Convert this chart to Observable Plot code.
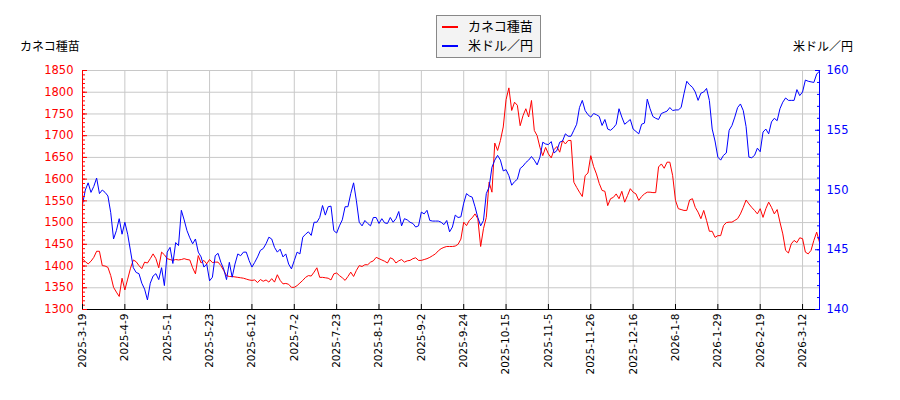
<!DOCTYPE html>
<html><head><meta charset="utf-8">
<script src="https://cdn.jsdelivr.net/npm/d3@7"></script>
<script src="https://cdn.jsdelivr.net/npm/@observablehq/plot@0.6"></script>
<style>
body{margin:0;background:#fff;font-family:"DejaVu Sans","Noto Sans CJK JP",sans-serif;}
#wrap{position:relative;width:900px;height:400px;}
.ttl{position:absolute;font-size:12px;top:37px;color:#000;white-space:nowrap;}
#legend{position:absolute;left:436px;top:15px;width:105px;height:43px;border:1px solid #888;background:#f3f3f3;box-sizing:border-box;font-size:13px;}
.row{position:absolute;left:0;height:18px;line-height:18px;white-space:nowrap;}
.sw{position:absolute;left:5px;top:8px;width:16px;height:2px;}
.lt{position:absolute;left:31px;top:0;}
</style></head>
<body><div id="wrap">
<div class="ttl" style="left:20px">カネコ種苗</div>
<div class="ttl" style="left:793px">米ドル／円</div>
<div id="legend">
 <div class="row" style="top:2px"><div class="sw" style="background:#ff0000"></div><span class="lt">カネコ種苗</span></div>
 <div class="row" style="top:21px"><div class="sw" style="background:#0000ff"></div><span class="lt">米ドル／円</span></div>
</div>
</div>
<script>
const tickLabels = ["2025-3-19","2025-4-9","2025-5-1","2025-5-23","2025-6-12","2025-7-2","2025-7-23","2025-8-13","2025-9-2","2025-9-24","2025-10-15","2025-11-5","2025-11-26","2025-12-16","2026-1-8","2026-1-29","2026-2-19","2026-3-12"];
const leftTicks = [1300,1350,1400,1450,1500,1550,1600,1650,1700,1750,1800,1850];
const rightTicks = [140,145,150,155,160];

const kaneko = [
1417,1410,1405,1411,1420,1434,1434,1401,1400,1397,
1378,1351,1340,1330,1372,1345,1370,1395,1414,1410,
1401,1394,1409,1407,1417,1428,1417,1396,1432,1426,
1417,1415,1413,1415,1414,1415,1417,1415,1414,1396,
1382,1424,1407,1413,1405,1415,1408,1409,1409,1401,
1390,1378,1376,1376,1375,1374,1373,1372,1370,1368,
1367,1368,1362,1369,1365,1368,1363,1371,1363,1380,
1367,1359,1360,1358,1351,1351,1355,1361,1367,1374,
1378,1377,1386,1396,1374,1374,1373,1372,1368,1382,
1384,1378,1373,1367,1376,1386,1376,1390,1401,1399,
1403,1403,1409,1412,1420,1417,1414,1411,1407,1419,
1416,1407,1412,1415,1409,1412,1413,1417,1419,1413,
1413,1415,1417,1420,1424,1428,1435,1440,1443,1445,
1445,1445,1446,1450,1462,1501,1493,1505,1511,1520,
1509,1445,1486,1512,1593,1570,1683,1666,1689,1720,
1783,1810,1758,1777,1770,1723,1746,1762,1743,1781,
1712,1700,1673,1654,1673,1658,1649,1668,1675,1662,
1689,1681,1689,1689,1593,1581,1570,1560,1608,1614,
1654,1629,1612,1590,1574,1572,1539,1555,1558,1566,
1555,1572,1547,1562,1578,1570,1566,1551,1560,1566,
1570,1570,1569,1569,1628,1635,1625,1639,1639,1608,
1551,1532,1530,1528,1528,1552,1555,1535,1524,1509,
1528,1505,1480,1480,1466,1470,1470,1493,1500,1501,
1501,1505,1509,1520,1535,1552,1543,1535,1528,1520,
1532,1512,1532,1547,1535,1520,1530,1501,1474,1436,
1430,1451,1459,1454,1465,1463,1432,1428,1436,1459,
1478,1455];

const usdjpy = [
148.8,150.0,150.6,149.8,150.3,151.0,149.7,150.0,149.8,149.5,
148.1,145.9,146.6,147.6,146.3,147.3,146.3,144.9,143.5,143.1,
143.0,142.2,141.7,140.8,142.2,142.8,143.0,142.5,143.5,142.0,
144.8,145.2,143.85,145.6,145.35,148.3,147.5,146.6,146.0,145.5,
145.9,144.8,144.4,143.55,143.8,142.4,142.7,144.5,144.7,143.95,
143.4,142.5,143.95,142.7,143.8,144.65,144.5,144.8,144.8,144.1,
143.55,143.95,144.4,144.95,145.1,145.5,146.05,145.9,145.2,144.8,
145.05,144.4,144.65,143.8,143.4,144.1,144.8,144.65,146.05,146.3,
146.5,146.2,147.3,147.3,147.7,148.7,147.9,148.6,148.65,146.6,
146.4,147.0,147.5,148.6,148.6,149.7,150.6,149.1,147.3,147.0,
147.45,147.2,147.0,147.7,147.7,147.2,147.6,147.25,147.2,147.7,
147.3,147.6,148.2,147.0,147.6,147.5,147.3,147.2,146.9,147.0,
148.15,148.0,148.3,147.45,147.4,147.4,147.4,147.3,147.1,147.45,
146.5,146.9,147.9,147.7,147.75,148.9,149.7,149.5,149.4,148.6,
147.7,147.0,147.45,149.7,150.25,151.9,152.5,152.9,152.5,151.6,
151.7,151.2,150.4,150.7,150.9,151.8,152.0,152.3,152.5,152.8,
152.5,152.1,152.75,154.0,153.85,153.8,154.05,153.1,153.3,154.0,
154.1,154.7,154.5,154.5,155.0,155.5,156.9,157.5,156.65,156.3,
156.1,156.4,156.3,156.15,155.4,155.9,155.1,155.0,155.2,155.5,
156.8,156.1,155.5,155.7,155.9,155.1,154.9,154.7,155.5,155.6,
157.6,156.8,156.15,156.0,155.9,156.4,156.5,156.6,156.9,156.65,
156.7,156.7,156.9,158.05,159.1,158.8,158.6,158.2,157.5,158.1,
158.2,158.5,157.5,155.1,154.1,152.75,152.5,152.9,153.1,155.0,
155.4,156.1,156.9,157.2,156.65,155.3,152.75,152.7,152.9,153.5,
153.2,154.85,155.1,154.7,155.7,156.0,155.8,156.8,157.35,157.7,
157.5,157.5,157.5,158.4,157.9,158.2,159.2,159.1,159.05,159.0,
159.7,159.95];

const L0 = 1300, L1 = 1850, R0 = 140, R1 = 160;
const toLeft = v => L0 + (v - R0) * (L1 - L0) / (R1 - R0);
const fromLeft = v => R0 + (v - L0) * (R1 - R0) / (L1 - L0);
const n = kaneko.length;
const xTicks = tickLabels.map((_, i) => i * 15);
const leftMinor = d3.range(L0, L1 + 1, 10);
const rightMinor = d3.range(R0, R1 + 1, 1).map(toLeft);
const grid = "#c8c8c8";

const chart = Plot.plot({
  width: 900, height: 400,
  marginTop: 70, marginBottom: 91, marginLeft: 82, marginRight: 81,
  style: {fontFamily: '"DejaVu Sans","Noto Sans CJK JP",sans-serif', fontSize: "11px", background: "transparent", overflow: "visible"},
  x: {domain: [0, n - 1]},
  y: {domain: [L0, L1]},
  marks: [
    Plot.ruleX(xTicks, {stroke: grid, strokeWidth: 1}),
    Plot.ruleY(leftTicks, {stroke: grid, strokeWidth: 1}),
    Plot.line(kaneko, {x: (d, i) => i, y: d => d, stroke: "#ff0000", strokeWidth: 1}),
    Plot.line(usdjpy, {x: (d, i) => i, y: d => toLeft(d), stroke: "#0000ff", strokeWidth: 1}),
    Plot.ruleY([L0], {stroke: "#000", strokeWidth: 1}),
    Plot.ruleX([0], {stroke: "#ff0000", strokeWidth: 1}),
    Plot.ruleX([n - 1], {stroke: "#0000ff", strokeWidth: 1}),
    // left ticks (inward)
    Plot.axisY(leftMinor, {anchor: "left", tickSize: 3, dx: 3, tickFormat: () => "", color: "#ff0000"}),
    Plot.axisY(leftTicks, {anchor: "left", tickSize: 5, dx: 5, tickFormat: () => "", color: "#ff0000"}),
    Plot.axisY(leftTicks, {anchor: "left", tickSize: 0, tickPadding: 9, color: "#ff0000", fontSize: 11.5, tickFormat: d => String(d)}),
    // right ticks (inward)
    Plot.axisY(rightMinor, {anchor: "right", tickSize: 3, dx: -3, tickFormat: () => "", color: "#0000ff"}),
    Plot.axisY(rightTicks.map(toLeft), {anchor: "right", tickSize: 5, dx: -5, tickFormat: () => "", color: "#0000ff"}),
    Plot.axisY(rightTicks.map(toLeft), {anchor: "right", tickSize: 0, tickPadding: 7, color: "#0000ff", fontSize: 11.5, tickFormat: d => String(Math.round(fromLeft(d)))}),
    // bottom ticks
    Plot.axisX(xTicks, {anchor: "bottom", tickSize: 5, dy: -5, tickFormat: () => "", color: "#000"}),
    Plot.axisX(xTicks, {anchor: "bottom", tickSize: 0, tickPadding: 4, tickRotate: -90, color: "#000", fontSize: 10.5, tickFormat: d => tickLabels[Math.round(d / 15)]})
  ]
});
chart.style.position = "absolute";
chart.style.left = "0px";
chart.style.top = "0px";
const wrap = document.getElementById("wrap");
wrap.insertBefore(chart, wrap.firstChild);
</script>
</body></html>
